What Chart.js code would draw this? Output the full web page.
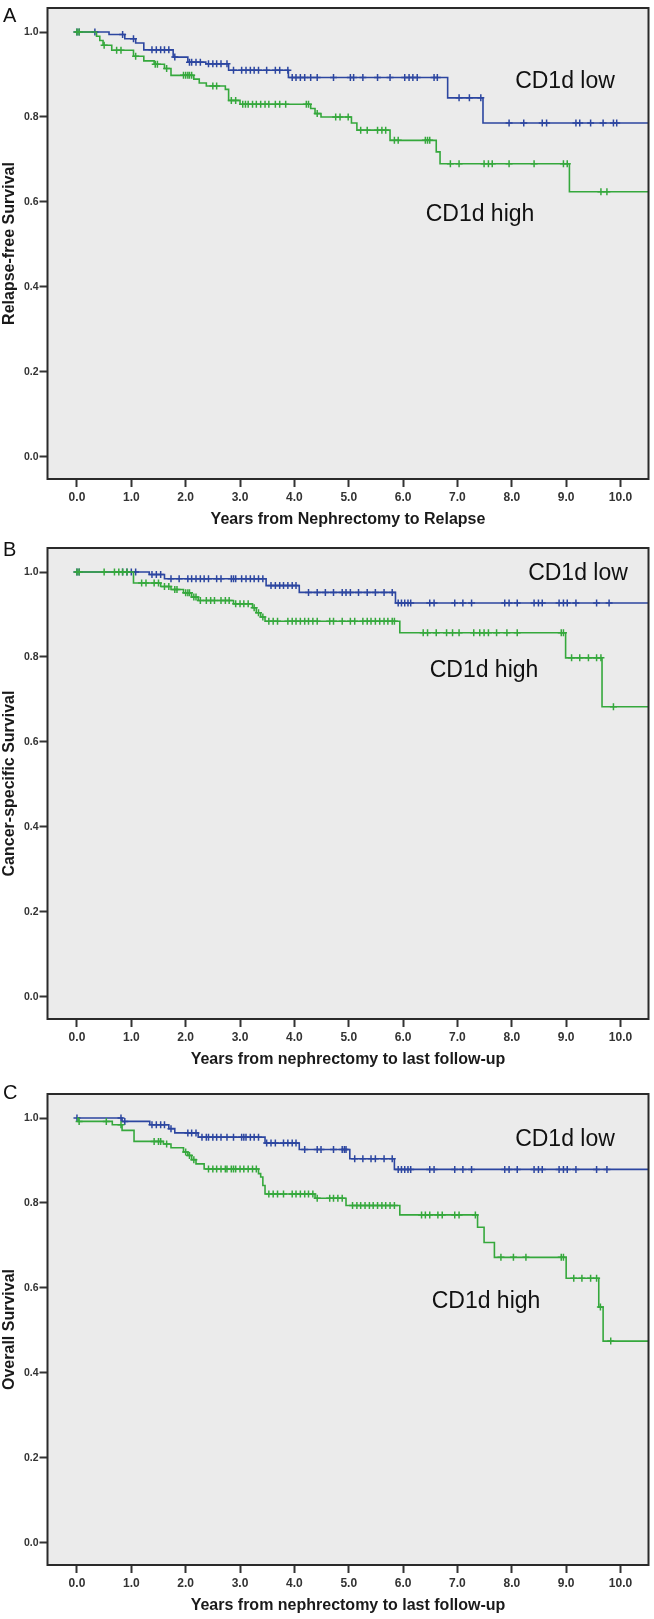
<!DOCTYPE html>
<html>
<head>
<meta charset="utf-8">
<script src="https://cdn.jsdelivr.net/npm/chart.js@4.4.0/dist/chart.umd.min.js"></script>
<style>
  body { margin: 0; background: #fff; }
  #page { position: relative; width: 654px; height: 1619px; font-family: "Liberation Sans", Arial, sans-serif; }
  .panel { position: absolute; left: 0; width: 654px; }
  .panel canvas { position: absolute; left: 0; top: 0; }
  .tag { position: absolute; left: 3px; font-size: 20px; color: #111; line-height: 1; }
  .grp { position: absolute; font-size: 23px; color: #111; line-height: 1; white-space: nowrap; transform: translate(-50%, -50%); }
</style>
</head>
<body>
<div id="page">
  <div class="panel" style="top:0;height:540px"><canvas id="chartA" width="654" height="540"></canvas></div>
  <div class="panel" style="top:540px;height:546px"><canvas id="chartB" width="654" height="546"></canvas></div>
  <div class="panel" style="top:1086px;height:533px"><canvas id="chartC" width="654" height="533"></canvas></div>

  <div class="tag" style="top:5px">A</div>
  <div class="tag" style="top:539px">B</div>
  <div class="tag" style="top:1082px">C</div>

  <div class="grp" style="left:565px;top:80px">CD1d low</div>
  <div class="grp" style="left:480px;top:213px">CD1d high</div>
  <div class="grp" style="left:578px;top:572px">CD1d low</div>
  <div class="grp" style="left:484px;top:669px">CD1d high</div>
  <div class="grp" style="left:565px;top:1138px">CD1d low</div>
  <div class="grp" style="left:486px;top:1300px">CD1d high</div>
</div>
<script>
// axis ticks
const xTicks = [0, 1, 2, 3, 4, 5, 6, 7, 8, 9, 10];
const yTicks = [0, 0.2, 0.4, 0.6, 0.8, 1.0];

// A: relapse-free survival, event times (years) and survival after each event
const aLowTime = [0.59, 0.88, 1.08, 1.23, 1.77, 2.04, 2.37, 2.79, 3.89, 6.82, 7.47];
const aLowSurv = [0.994, 0.984, 0.974, 0.958, 0.941, 0.929, 0.925, 0.910, 0.893, 0.845, 0.786];
const aLowCens = [0.0, 0.04, 0.33, 0.84, 1.04, 1.38, 1.46, 1.54, 1.61, 1.69, 1.80, 2.07, 2.11, 2.19, 2.27, 2.42, 2.50, 2.57, 2.65, 2.76,
  2.88, 3.03, 3.11, 3.19, 3.26, 3.34, 3.49, 3.65, 3.73, 3.88, 3.96, 4.03, 4.11, 4.19, 4.30, 4.42, 4.72, 5.03, 5.09, 5.26,
  5.53, 5.76, 6.03, 6.11, 6.18, 6.26, 6.57, 6.63, 7.03, 7.22, 7.43, 7.95, 8.22, 8.56, 8.64, 9.18, 9.25, 9.45, 9.68, 9.87, 9.93];
const aHighTime = [0.36, 0.42, 0.48, 0.64, 1.04, 1.23, 1.42, 1.61, 1.73, 2.15, 2.25, 2.38, 2.73, 2.79, 3.00, 4.30, 4.38, 4.49,
  5.05, 5.15, 5.76, 6.61, 6.68, 9.06];
const aHighSurv = [0.990, 0.980, 0.969, 0.957, 0.943, 0.932, 0.924, 0.914, 0.898, 0.889, 0.880, 0.873, 0.865, 0.839, 0.830, 0.820,
  0.808, 0.800, 0.786, 0.769, 0.745, 0.718, 0.690, 0.624];
const aHighCens = [0.0, 0.04, 0.50, 0.73, 0.81, 1.08, 1.44, 1.48, 1.65, 1.96, 2.00, 2.04, 2.07, 2.11, 2.50, 2.57, 2.84, 2.92, 3.05,
  3.10, 3.15, 3.23, 3.30, 3.38, 3.46, 3.53, 3.65, 3.73, 3.84, 4.22, 4.26, 4.42, 4.76, 4.84, 4.99, 5.22, 5.34, 5.53, 5.61, 5.68,
  5.84, 5.91, 6.41, 6.45, 6.49, 6.87, 7.03, 7.49, 7.57, 7.64, 7.95, 8.41, 8.95, 9.02, 9.64, 9.75];

// B: cancer-specific survival
const bLowTime = [1.33, 1.61, 3.48, 4.09, 5.86];
const bLowSurv = [0.994, 0.984, 0.968, 0.952, 0.927];
const bLowCens = [0.0, 0.04, 0.84, 0.92, 1.00, 1.08, 1.38, 1.46, 1.54, 1.73, 1.88, 2.04, 2.11, 2.19, 2.27, 2.34, 2.42, 2.57, 2.65,
  2.84, 2.88, 2.92, 3.03, 3.11, 3.19, 3.26, 3.34, 3.42, 3.57, 3.65, 3.73, 3.80, 3.88, 3.96, 4.03, 4.26, 4.42, 4.57, 4.72, 4.88,
  4.95, 5.03, 5.18, 5.34, 5.49, 5.65, 5.80, 5.91, 5.97, 6.03, 6.09, 6.14, 6.49, 6.57, 6.95, 7.10, 7.26, 7.87, 7.95, 8.10, 8.41,
  8.49, 8.56, 8.87, 8.95, 9.02, 9.18, 9.56, 9.79];
const bHighTime = [1.04, 1.54, 1.73, 1.96, 2.11, 2.23, 2.88, 3.23, 3.30, 3.38, 3.46, 5.94, 8.99, 9.66];
const bHighSurv = [0.974, 0.966, 0.959, 0.951, 0.941, 0.933, 0.925, 0.916, 0.904, 0.894, 0.884, 0.857, 0.798, 0.683];
const bHighCens = [0.0, 0.04, 0.50, 0.69, 0.77, 0.84, 0.92, 1.19, 1.27, 1.42, 1.50, 1.61, 1.69, 1.80, 1.84, 2.00, 2.04, 2.07, 2.15,
  2.19, 2.27, 2.38, 2.46, 2.53, 2.65, 2.73, 2.80, 2.92, 3.00, 3.07, 3.15, 3.26, 3.34, 3.42, 3.53, 3.61, 3.69, 3.88, 3.96, 4.03,
  4.11, 4.19, 4.26, 4.34, 4.42, 4.65, 4.72, 4.88, 5.03, 5.11, 5.26, 5.34, 5.41, 5.49, 5.57, 5.65, 5.72, 5.80, 5.84, 6.37, 6.45,
  6.61, 6.80, 6.91, 7.03, 7.30, 7.41, 7.49, 7.57, 7.72, 7.91, 8.10, 8.91, 8.95, 9.10, 9.25, 9.41, 9.56, 9.64, 9.87];

// C: overall survival
const cLowTime = [0.83, 1.34, 1.69, 1.80, 2.23, 3.46, 4.09, 5.02, 5.84];
const cLowSurv = [0.992, 0.984, 0.975, 0.965, 0.955, 0.941, 0.926, 0.904, 0.879];
const cLowCens = [0.0, 0.81, 0.88, 1.38, 1.46, 1.54, 1.61, 1.73, 2.04, 2.11, 2.19, 2.30, 2.38, 2.42, 2.50, 2.57, 2.65, 2.76, 2.88,
  3.03, 3.07, 3.11, 3.19, 3.26, 3.34, 3.49, 3.57, 3.65, 3.80, 3.88, 3.96, 4.03, 4.19, 4.42, 4.49, 4.72, 4.88, 4.92, 4.95, 5.11,
  5.26, 5.41, 5.49, 5.65, 5.80, 5.91, 5.97, 6.03, 6.09, 6.14, 6.49, 6.57, 6.95, 7.10, 7.26, 7.87, 7.95, 8.10, 8.41, 8.49, 8.56,
  8.87, 8.95, 9.02, 9.18, 9.56, 9.75];
const cHighTime = [0.02, 0.65, 0.83, 1.05, 1.59, 1.73, 1.96, 2.04, 2.11, 2.19, 2.34, 3.34, 3.38, 3.42, 3.46, 4.38, 4.95, 5.94,
  7.37, 7.49, 7.68, 9.00, 9.60, 9.68];
const cHighSurv = [0.992, 0.984, 0.971, 0.945, 0.939, 0.930, 0.920, 0.912, 0.902, 0.892, 0.880, 0.869, 0.861, 0.841, 0.821, 0.811,
  0.794, 0.772, 0.743, 0.707, 0.672, 0.623, 0.555, 0.475];
const cHighCens = [0.04, 0.54, 0.81, 1.42, 1.50, 1.54, 1.65, 2.00, 2.07, 2.15, 2.42, 2.50, 2.57, 2.65, 2.73, 2.76, 2.84, 2.88, 2.92,
  3.00, 3.07, 3.15, 3.23, 3.30, 3.53, 3.61, 3.69, 3.80, 3.96, 4.03, 4.11, 4.19, 4.26, 4.34, 4.42, 4.65, 4.72, 4.80, 4.88, 5.07,
  5.15, 5.22, 5.30, 5.38, 5.45, 5.53, 5.61, 5.68, 5.76, 5.84, 6.34, 6.41, 6.49, 6.64, 6.72, 6.95, 7.03, 7.33, 7.80, 8.03, 8.26,
  8.91, 8.95, 9.14, 9.29, 9.45, 9.56, 9.63, 9.82];

const X_MIN = -0.542, X_MAX = 10.515, Y_MIN = -0.052, Y_MAX = 1.0565;
const FONT = "'Liberation Sans', Arial, sans-serif";
const BLUE = '#2c46a0';
const GREEN = '#35a83c';

function survAt(times, surv, t) {
  let s = 1;
  for (let i = 0; i < times.length; i++) {
    if (times[i] <= t) s = surv[i];
  }
  return s;
}

function stepPoints(times, surv) {
  const pts = [{ x: 0, y: 1 }];
  times.forEach((t, i) => pts.push({ x: t, y: surv[i] }));
  pts.push({ x: X_MAX, y: surv[surv.length - 1] });
  return pts;
}

function censorPoints(times, surv, cens) {
  return cens.map(t => ({ x: t, y: survAt(times, surv, t) }));
}

// grey plot area + frame
const frame = {
  id: 'frame',
  beforeDraw(chart) {
    const { ctx, chartArea: a } = chart;
    ctx.save();
    ctx.fillStyle = '#ebebeb';
    ctx.fillRect(a.left, a.top, a.right - a.left, a.bottom - a.top);
    ctx.restore();
  },
  afterDraw(chart) {
    const { ctx, chartArea: a } = chart;
    ctx.save();
    ctx.strokeStyle = '#2a2a2a';
    ctx.lineWidth = 2;
    ctx.strokeRect(a.left, a.top, a.right - a.left, a.bottom - a.top);
    ctx.restore();
  }
};

function kmSets(times, surv, cens, color) {
  return [
    {
      data: stepPoints(times, surv),
      stepped: 'before',
      borderColor: color,
      borderWidth: 1.6,
      pointRadius: 0,
      fill: false
    },
    {
      data: censorPoints(times, surv, cens),
      showLine: false,
      pointStyle: 'cross',
      pointRadius: 3.5,
      borderColor: color,
      borderWidth: 1.5,
      backgroundColor: color
    }
  ];
}

function makeChart(id, h, yTitle, xTitle, low, high) {
  new Chart(document.getElementById(id), {
    type: 'line',
    data: {
      datasets: [
        ...kmSets(high[0], high[1], high[2], GREEN),
        ...kmSets(low[0], low[1], low[2], BLUE)
      ]
    },
    plugins: [frame],
    options: {
      responsive: false,
      animation: false,
      layout: { padding: { top: 8, right: 5, left: 0, bottom: 0 } },
      plugins: { legend: { display: false }, tooltip: { enabled: false } },
      scales: {
        x: {
          type: 'linear',
          min: X_MIN,
          max: X_MAX,
          afterBuildTicks: s => { s.ticks = xTicks.map(v => ({ value: v })); },
          afterFit: s => { s.height = h - 479; },
          ticks: {
            callback: v => Number(v).toFixed(1),
            font: { family: FONT, size: 12, weight: 'bold' },
            color: '#333',
            padding: 3,
            maxRotation: 0,
            autoSkip: false
          },
          grid: { drawOnChartArea: false, drawTicks: true, tickLength: 8, tickWidth: 2, tickColor: '#333' },
          border: { display: false },
          title: {
            display: true,
            text: xTitle,
            font: { family: FONT, size: 16, weight: 'bold' },
            color: '#1a1a1a',
            padding: { top: 0, bottom: h - 520 - 9.6 }
          }
        },
        y: {
          type: 'linear',
          min: Y_MIN,
          max: Y_MAX,
          afterBuildTicks: s => { s.ticks = yTicks.map(v => ({ value: v })); },
          afterFit: s => { s.width = 47.5; },
          ticks: {
            callback: v => Number(v).toFixed(1),
            font: { family: FONT, size: 10.5, weight: 'bold' },
            color: '#333',
            padding: 1
          },
          grid: { drawOnChartArea: false, drawTicks: true, tickLength: 8, tickWidth: 2, tickColor: '#333' },
          border: { display: false },
          title: {
            display: true,
            text: yTitle,
            font: { family: FONT, size: 16, weight: 'bold' },
            color: '#1a1a1a',
            padding: { top: 0, bottom: 0 }
          }
        }
      }
    }
  });
}

makeChart('chartA', 540, 'Relapse-free Survival', 'Years from Nephrectomy to Relapse',
  [aLowTime, aLowSurv, aLowCens], [aHighTime, aHighSurv, aHighCens]);
makeChart('chartB', 546, 'Cancer-specific Survival', 'Years from nephrectomy to last follow-up',
  [bLowTime, bLowSurv, bLowCens], [bHighTime, bHighSurv, bHighCens]);
makeChart('chartC', 533, 'Overall Survival', 'Years from nephrectomy to last follow-up',
  [cLowTime, cLowSurv, cLowCens], [cHighTime, cHighSurv, cHighCens]);
</script>
</body>
</html>
